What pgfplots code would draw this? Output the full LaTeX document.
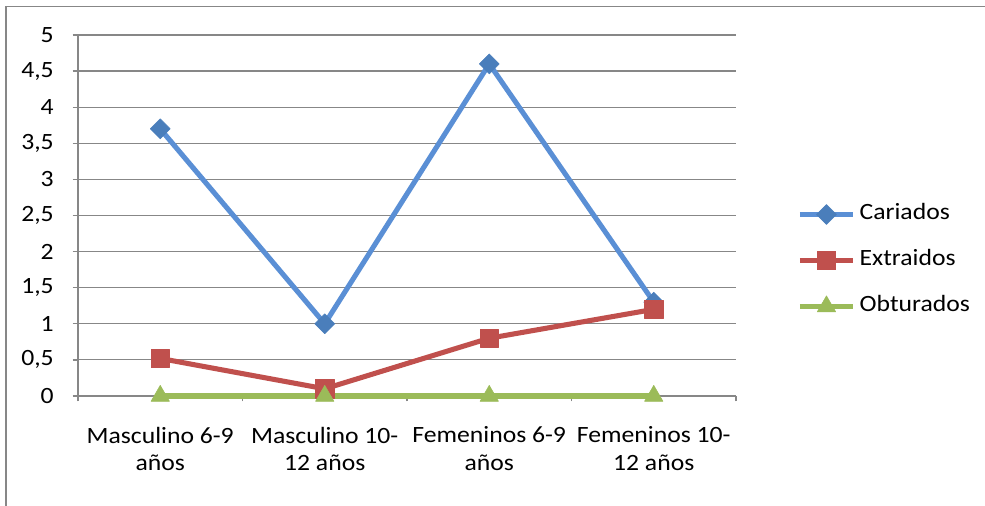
\documentclass[border=0pt]{standalone}
\usepackage{pgfplots}
\pgfplotsset{compat=1.18}
\usepackage{fontspec}
\setmainfont{Carlito}[FakeStretch=1.1]

\definecolor{cariLine}{HTML}{5A8FD5}
\definecolor{cariMark}{HTML}{4A7EBB}
\definecolor{extrLine}{HTML}{C0504D}
\definecolor{extrMark}{HTML}{C0504D}
\definecolor{obtuLine}{HTML}{9BBB59}
\definecolor{gridGray}{HTML}{878787}

\begin{document}
\begin{tikzpicture}
% page size (1px = 0.75pt)
\useasboundingbox (0,0) rectangle (738.75pt,379.5pt);
% chart frame (top and left edges)
\draw[gridGray, line width=1.1pt] (4.5pt,-5pt) -- (4.5pt,374.6pt) -- (745pt,374.6pt);
\begin{axis}[
  at={(58.5pt,82.5pt)}, anchor=south west,
  scale only axis, width=493.5pt, height=270.75pt,
  font=\fontsize{17.5}{20.75}\selectfont,
  xmin=-0.5, xmax=3.5, ymin=0, ymax=5,
  clip=false,
  axis lines*=left,
  y axis line style={gridGray, line width=2.2pt},
  x axis line style={gridGray, line width=1.5pt},
  ymajorgrids,
  major grid style={gridGray, line width=0.9pt},
  tick align=outside,
  major tick length=4pt,
  tick style={gridGray, line width=1pt},
  ytick={0,0.5,1,1.5,2,2.5,3,3.5,4,4.5,5},
  /pgf/number format/.cd, use comma, fixed, precision=1, assume math mode=true,
  /pgfplots/.cd,
  yticklabel style={anchor=east, inner sep=0pt, xshift=-14pt},
  xtick={-0.5,0.5,1.5,2.5,3.5},
  xticklabels={},
  extra x ticks={0,1,2,3},
  extra x tick labels={Masculino 6-9\\años, Masculino 10-\\12 años, Femeninos 6-9\\años, Femeninos 10-\\12 años},
  extra x tick style={major tick length=0pt,
    xticklabel style={align=center, anchor=north, inner sep=0pt, yshift=-23pt}},
  legend style={at={(1,0.5)}, anchor=west, xshift=45.75pt, yshift=-33.75pt,
    draw=none, fill=none, inner sep=0pt, row sep=18.5pt,
    nodes={inner sep=0pt, text height=12pt, text depth=4pt},
    /tikz/every odd column/.append style={column sep=3pt}},
  legend cell align=left,
  legend image code/.code={%
    \draw[mark repeat=2, mark phase=2, #1] plot coordinates {(0pt,0pt) (20pt,0pt) (40pt,0pt)};},
]
\addplot[cariLine, line width=3.8pt, line join=round,
  mark=square*, mark size=5.3pt,
  mark options={rotate=45, fill=cariMark, draw=cariMark, line width=0.4pt}]
  coordinates {(0,3.7) (1,1) (2,4.6) (3,1.3)};
\addlegendentry{Cariados}
\addplot[extrLine, line width=3.8pt, line join=round,
  mark=square*, mark size=6.8pt,
  mark options={fill=extrMark, draw=extrMark, line width=0.4pt}]
  coordinates {(0,0.52) (1,0.1) (2,0.8) (3,1.2)};
\addlegendentry{Extraidos}
\addplot[obtuLine, line width=3.8pt, line join=round,
  mark=triangle*, mark size=8pt,
  mark options={fill=obtuLine, draw=obtuLine, line width=0.4pt}]
  coordinates {(0,0) (1,0) (2,0) (3,0)};
\addlegendentry{Obturados}
\end{axis}
\end{tikzpicture}
\end{document}
